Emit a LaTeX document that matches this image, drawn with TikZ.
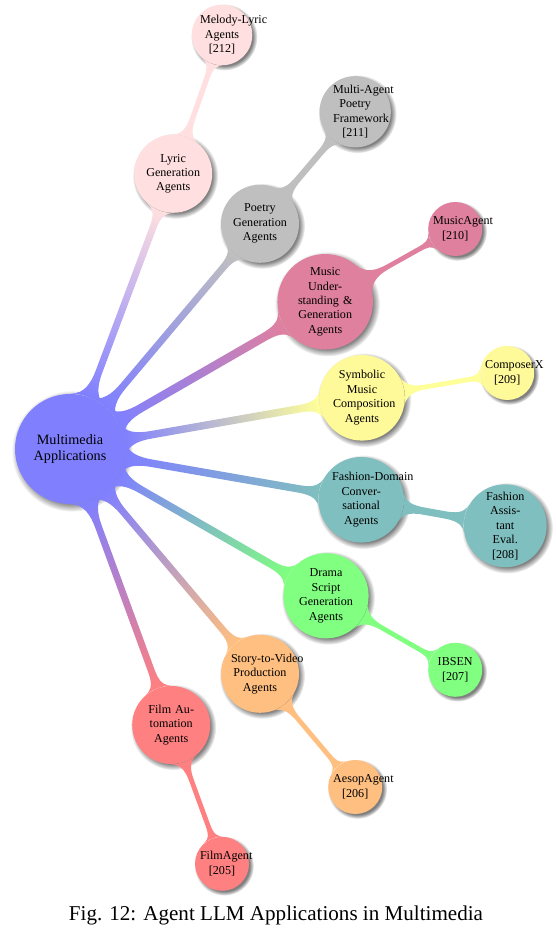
\documentclass[tikz,border=0pt]{standalone}
\usepackage{fontspec}
\setmainfont{Liberation Serif}
\usepackage{tikz}
\usetikzlibrary{mindmap,shadows}
\colorlet{RootBlue}{blue!50}
\colorlet{LyricPink}{pink!50}
\colorlet{PoetryGray}{gray!50}
\colorlet{MusicPurple}{purple!50}
\colorlet{SymbolicYellow}{yellow!40}
\colorlet{FashionTeal}{teal!50}
\colorlet{DramaGreen}{green!50}
\colorlet{StoryOrange}{orange!50}
\colorlet{FilmRed}{red!50}
\tikzset{
  bubble/.style={circle,align=center,text=black,circular drop shadow},
  rootbubble/.style={bubble,font=\fontsize{10.1}{11.5}\selectfont,text width=1.9cm,minimum size=2.75cm,inner sep=1pt},
  midbubble/.style={bubble,font=\fontsize{8.6}{10.3}\selectfont,text width=1.45cm,minimum size=1.95cm,inner sep=1.5pt},
  leafbubble/.style={bubble,font=\fontsize{8.6}{10.3}\selectfont,text width=1.1cm,minimum size=1.35cm,inner sep=0.5pt},
  linkbar/.style={line width=5.5pt},
  leafbar/.style={line width=5pt},
}

\begin{document}
\begin{tikzpicture}
  \useasboundingbox (0,0) rectangle (13.875,23.275);

  \node[rootbubble,fill=RootBlue] (root) at (1.75,12.05) {Multimedia Applications};

  % first ring
  \node[midbubble,fill=LyricPink] (lyric) at (4.33,18.93) {Lyric\\Generation\\Agents};
  \node[midbubble,fill=PoetryGray] (poetry) at (6.50,17.68) {Poetry\\Generation\\Agents};
  \node[midbubble,fill=MusicPurple] (music) at (8.13,15.73) {Music\\Under-\\standing \&\\Generation\\Agents};
  \node[midbubble,fill=SymbolicYellow] (symbolic) at (9.05,13.33) {Symbolic\\Music\\Composition\\Agents};
  \node[midbubble,fill=FashionTeal] (fashion) at (9.03,10.78) {\mbox{Fashion-Domain}\\Conver-\\sational\\Agents};
  \node[midbubble,fill=DramaGreen] (drama) at (8.15,8.38) {Drama\\Script\\Generation\\Agents};
  \node[midbubble,fill=StoryOrange] (story) at (6.50,6.43) {\mbox{Story-to-Video}\\Production\\Agents};
  \node[midbubble,fill=FilmRed] (film) at (4.28,5.15) {Film Au-\\tomation\\Agents};

  % second ring
  \node[leafbubble,fill=LyricPink] (melody) at (5.55,22.40) {\mbox{Melody-Lyric}\\Agents\\{[212]}};
  \node[leafbubble,fill=PoetryGray] (multiagent) at (8.88,20.48) {\mbox{Multi-Agent}\\Poetry\\Framework\\{[211]}};
  \node[leafbubble,fill=MusicPurple] (musicagent) at (11.38,17.55) {MusicAgent\\{[210]}};
  \node[leafbubble,fill=SymbolicYellow] (composerx) at (12.68,13.95) {ComposerX\\{[209]}};
  \node[leafbubble,fill=FashionTeal] (assistant) at (12.63,10.13) {Fashion\\Assis-\\tant\\Eval.\\{[208]}};
  \node[leafbubble,fill=DramaGreen] (ibsen) at (11.38,6.53) {IBSEN\\{[207]}};
  \node[leafbubble,fill=StoryOrange] (aesop) at (8.88,3.60) {AesopAgent\\{[206]}};
  \node[leafbubble,fill=FilmRed] (filmagent) at (5.55,1.68) {FilmAgent\\{[205]}};

  % bars
  \path[linkbar] (root) to[circle connection bar switch color=from (RootBlue) to (LyricPink)] (lyric);
  \path[linkbar] (root) to[circle connection bar switch color=from (RootBlue) to (PoetryGray)] (poetry);
  \path[linkbar] (root) to[circle connection bar switch color=from (RootBlue) to (MusicPurple)] (music);
  \path[linkbar] (root) to[circle connection bar switch color=from (RootBlue) to (SymbolicYellow)] (symbolic);
  \path[linkbar] (root) to[circle connection bar switch color=from (RootBlue) to (FashionTeal)] (fashion);
  \path[linkbar] (root) to[circle connection bar switch color=from (RootBlue) to (DramaGreen)] (drama);
  \path[linkbar] (root) to[circle connection bar switch color=from (RootBlue) to (StoryOrange)] (story);
  \path[linkbar] (root) to[circle connection bar switch color=from (RootBlue) to (FilmRed)] (film);

  \path[leafbar] (lyric) to[circle connection bar switch color=from (LyricPink) to (LyricPink)] (melody);
  \path[leafbar] (poetry) to[circle connection bar switch color=from (PoetryGray) to (PoetryGray)] (multiagent);
  \path[leafbar] (music) to[circle connection bar switch color=from (MusicPurple) to (MusicPurple)] (musicagent);
  \path[leafbar] (symbolic) to[circle connection bar switch color=from (SymbolicYellow) to (SymbolicYellow)] (composerx);
  \path[leafbar] (fashion) to[circle connection bar switch color=from (FashionTeal) to (FashionTeal)] (assistant);
  \path[leafbar] (drama) to[circle connection bar switch color=from (DramaGreen) to (DramaGreen)] (ibsen);
  \path[leafbar] (story) to[circle connection bar switch color=from (StoryOrange) to (StoryOrange)] (aesop);
  \path[leafbar] (film) to[circle connection bar switch color=from (FilmRed) to (FilmRed)] (filmagent);

  \node[font=\fontsize{15}{18}\selectfont] (caption) at (6.9,0.4) {Fig. 12: Agent LLM Applications in Multimedia};
\end{tikzpicture}
\end{document}
